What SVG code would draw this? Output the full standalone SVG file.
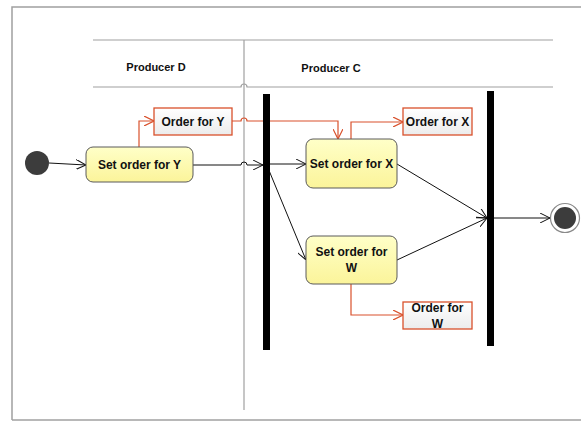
<svg xmlns="http://www.w3.org/2000/svg" width="581" height="422" viewBox="0 0 581 422">
<style>
.lane{fill:none;stroke:#a0a0a0;stroke-width:1.2}
.act{stroke:#5a5a5a;stroke-width:1;fill:url(#yg)}
.obj{stroke:#d9512c;stroke-width:1.3;fill:url(#gg)}
.t{font-family:"Liberation Sans",Arial,sans-serif;font-weight:bold;font-size:12px;fill:#111;text-anchor:middle}
.h{font-family:"Liberation Sans",Arial,sans-serif;font-weight:bold;font-size:11px;fill:#111;text-anchor:middle}
.c{fill:none;stroke:#111;stroke-width:1}
.o{fill:none;stroke:#d9512c;stroke-width:1.2}
.bar{fill:#000}
</style>
<defs>
<linearGradient id="yg" x1="0" y1="0" x2="0" y2="1"><stop offset="0" stop-color="#ffffc8"/><stop offset="1" stop-color="#fbf49a"/></linearGradient>
<linearGradient id="gg" x1="0" y1="0" x2="0" y2="1"><stop offset="0" stop-color="#ffffff"/><stop offset="1" stop-color="#ececec"/></linearGradient>
<marker id="ab" viewBox="0 0 10 10" refX="10" refY="5" markerWidth="10" markerHeight="10" markerUnits="userSpaceOnUse" orient="auto"><path d="M0,0 L10,5 L0,10" fill="none" stroke="#111" stroke-width="1"/></marker>
<marker id="ao" viewBox="0 0 10 10" refX="10" refY="5" markerWidth="10" markerHeight="10" markerUnits="userSpaceOnUse" orient="auto"><path d="M0,0 L10,5 L0,10" fill="none" stroke="#d9512c" stroke-width="1.2"/></marker>
</defs>
<rect x="0" y="0" width="581" height="422" fill="#fff"/>
<g id="frame">
<path d="M12,420 L12,7 L581,7" fill="none" stroke="#a0a0a0" stroke-width="1.5"/>
<line x1="12" y1="420" x2="581" y2="420" stroke="#a0a0a0" stroke-width="1.5"/>
</g>
<g id="lanes">
<line class="lane" x1="93" y1="40" x2="553" y2="40"/>
<path class="lane" d="M93,87 L241,87 A3,3 0 0 1 247,87 L553,87"/>
<line class="lane" x1="244" y1="40" x2="244" y2="410"/>
<text class="h" x="156" y="71">Producer D</text>
<text class="h" x="331" y="72">Producer C</text>
</g>
<g id="connectors">
<line class="c" x1="49" y1="163" x2="86" y2="165" marker-end="url(#ab)"/>
<path class="c" d="M193,165 L241,165 A3,3 0 0 1 247,165 L263,165" marker-end="url(#ab)"/>
<line class="c" x1="270" y1="164" x2="306" y2="164" marker-end="url(#ab)"/>
<line class="c" x1="268" y1="168" x2="306" y2="260" marker-end="url(#ab)"/>
<line class="c" x1="397" y1="164" x2="487" y2="218" marker-end="url(#ab)"/>
<line class="c" x1="397" y1="260" x2="487" y2="218" marker-end="url(#ab)"/>
<line class="c" x1="494" y1="218" x2="550" y2="218" marker-end="url(#ab)"/>
<path class="o" d="M139,147 L139,121 L154,121" marker-end="url(#ao)"/>
<path class="o" d="M232,121 L241,121 A3,3 0 0 1 247,121 L338,121 L338,139" marker-end="url(#ao)"/>
<path class="o" d="M351,139 L351,122 L403,122" marker-end="url(#ao)"/>
<path class="o" d="M351,284 L351,315 L403,315" marker-end="url(#ao)"/>
</g>
<g id="start"><circle cx="37" cy="163" r="12" fill="#3c3c3c"/></g>
<g id="setY"><rect class="act" x="86" y="147" width="107" height="35" rx="7"/><text class="t" x="139.5" y="169">Set order for Y</text></g>
<g id="orderY"><rect class="obj" x="154" y="108" width="78" height="27"/><text class="t" x="193" y="125.5">Order for Y</text></g>
<g id="fork"><rect class="bar" x="263" y="94" width="7" height="256"/></g>
<g id="setX"><rect class="act" x="306" y="139" width="91" height="49" rx="7"/><text class="t" x="351.5" y="168">Set order for X</text></g>
<g id="orderX"><rect class="obj" x="403" y="108" width="69" height="27"/><text class="t" x="437.5" y="126">Order for X</text></g>
<g id="setW"><rect class="act" x="306" y="236" width="91" height="48" rx="7"/><text class="t" x="351.5" y="256">Set order for</text><text class="t" x="351.5" y="272">W</text></g>
<g id="orderW"><rect class="obj" x="403" y="302" width="69" height="27"/><text class="t" x="437.5" y="312">Order for</text><text class="t" x="437.5" y="328">W</text></g>
<g id="join"><rect class="bar" x="487" y="91" width="7" height="255"/></g>
<g id="final"><circle cx="565" cy="218" r="14.5" fill="#fff" stroke="#8a8a8a" stroke-width="1.2"/><circle cx="565" cy="218" r="11" fill="#3c3c3c"/></g>
</svg>
